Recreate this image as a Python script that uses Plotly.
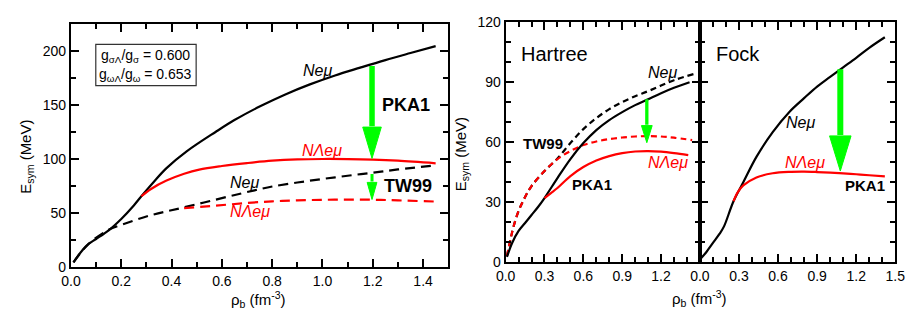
import plotly.graph_objects as go

W, H = 917, 320
FONT = "Liberation Sans, Arial, sans-serif"

# ---------------- data: left panel (PKA1 / TW99) ----------------
L_pka_n_x = [0.01, 0.04, 0.07, 0.10, 0.15, 0.20, 0.25, 0.28, 0.33, 0.38, 0.46, 0.575, 0.65, 0.75, 0.85, 0.95, 1.05, 1.15, 1.25, 1.35, 1.45]
L_pka_n_y = [4.4, 14.0, 21.4, 26.0, 34.0, 44.5, 57.0, 65.5, 79.0, 91.5, 107.0, 125.0, 136.0, 148.5, 159.5, 169.0, 177.3, 184.5, 191.5, 198.0, 204.4]
L_pka_l_x = [0.28, 0.32, 0.38, 0.45, 0.51, 0.60, 0.70, 0.80, 0.90, 1.00, 1.10, 1.20, 1.30, 1.45]
L_pka_l_y = [65.5, 72.5, 80.0, 86.3, 90.2, 93.5, 96.2, 98.4, 99.6, 100.0, 99.9, 99.4, 98.4, 96.0]
L_tw_n_x = [0.01, 0.07, 0.15, 0.20, 0.315, 0.445, 0.627, 0.73, 0.80, 0.90, 1.00, 1.10, 1.20, 1.30, 1.45]
L_tw_n_y = [4.4, 21.4, 34.5, 39.0, 47.8, 55.0, 65.3, 71.0, 74.5, 78.2, 81.5, 84.5, 87.3, 90.3, 94.0]
L_tw_l_x = [0.45, 0.575, 0.70, 0.80, 0.90, 1.00, 1.10, 1.20, 1.30, 1.45]
L_tw_l_y = [54.6, 56.8, 59.3, 60.8, 61.7, 62.2, 62.4, 62.3, 61.7, 60.6]

# ---------------- data: Hartree panel ----------------
H_pka_n_x = [0.01, 0.05, 0.10, 0.15, 0.20, 0.25, 0.30, 0.40, 0.50, 0.60, 0.70, 0.80, 0.90, 1.00, 1.10, 1.20, 1.30, 1.42]
H_pka_n_y = [2.5, 9.5, 15.5, 19.5, 23.5, 27.5, 32.0, 42.0, 51.5, 59.5, 66.0, 71.0, 75.0, 78.5, 81.5, 84.5, 87.2, 90.0]
H_pka_l_x = [0.30, 0.35, 0.40, 0.50, 0.60, 0.70, 0.80, 0.90, 1.00, 1.10, 1.20, 1.30, 1.41]
H_pka_l_y = [32.0, 34.5, 37.0, 43.0, 47.5, 50.8, 53.0, 54.5, 55.3, 55.5, 55.2, 54.5, 53.5]
H_tw_n_x = [0.01, 0.02, 0.04, 0.06, 0.10, 0.15, 0.20, 0.30, 0.40, 0.50, 0.60, 0.70, 0.80, 0.90, 1.00, 1.10, 1.20, 1.30, 1.45]
H_tw_n_y = [3.0, 6.0, 12.0, 17.5, 25.5, 32.5, 38.0, 45.5, 51.8, 59.5, 66.5, 72.0, 76.5, 80.0, 83.0, 85.5, 88.3, 91.0, 94.0]
H_tw_l_x = [0.01, 0.02, 0.04, 0.06, 0.10, 0.15, 0.20, 0.30, 0.40, 0.50, 0.60, 0.70, 0.80, 0.90, 1.00, 1.10, 1.20, 1.30, 1.44]
H_tw_l_y = [3.0, 6.0, 12.0, 17.5, 25.5, 32.5, 38.0, 45.5, 51.5, 55.5, 58.5, 60.3, 61.5, 62.3, 62.8, 63.0, 62.8, 62.2, 61.0]

# ---------------- data: Fock panel ----------------
F_pka_n_x = [0.01, 0.05, 0.10, 0.15, 0.185, 0.258, 0.333, 0.434, 0.559, 0.685, 0.80, 0.90, 1.00, 1.10, 1.20, 1.30, 1.42]
F_pka_n_y = [1.9, 5.0, 9.5, 14.0, 17.8, 30.4, 39.9, 52.6, 65.0, 75.0, 82.0, 87.8, 92.6, 97.4, 102.2, 107.2, 112.5]
F_pka_l_x = [0.258, 0.29, 0.333, 0.434, 0.559, 0.70, 0.80, 0.90, 1.00, 1.10, 1.20, 1.30, 1.42]
F_pka_l_y = [30.4, 34.8, 38.3, 42.3, 44.4, 45.1, 45.2, 45.0, 44.7, 44.3, 43.9, 43.4, 42.8]

# arrows: (x, y_from, y_to, shaft width px, head width px, head length px)
L_arrows = [(1.197, 186.0, 100.5, 5.5, 19, 33), (1.197, 86.0, 62.5, 3.0, 10, 18)]
H_arrows = [(1.09, 81.5, 59.7, 3.3, 11, 18)]
F_arrows = [(1.078, 96.5, 45.5, 6.0, 22, 37)]

# tick labels
L_xticks = [0.0, 0.2, 0.4, 0.6, 0.8, 1.0, 1.2, 1.4]
L_yticks = [0, 50, 100, 150, 200]
H_xticks = [0.0, 0.3, 0.6, 0.9, 1.2]
F_xticks = [0.0, 0.3, 0.6, 0.9, 1.2, 1.5]
R_yticks = [0, 30, 60, 90, 120]

# ---------------- layout geometry (pixels) ----------------
LX0, LX1, LY0, LY1 = 62.3, 448.0, 16.7, 272.7
HX0, HX1, RY0, RY1 = 506.7, 705.3, 15.0, 267.3
FX0, FX1 = 705.3, 905.0

def px(x):
    return x / W

def py(y):
    return 1 - y / H

BLACK, RED, GREEN = "#000000", "#ff0000", "#00ff00"

fig = go.Figure()

def line(x, y, color, dash, xa, ya):
    fig.add_trace(go.Scatter(x=x, y=y, mode="lines", xaxis=xa, yaxis=ya,
                             line=dict(color=color, width=2.2, dash=dash, shape="spline", smoothing=1.0),
                             hoverinfo="skip", showlegend=False))

line(L_tw_n_x, L_tw_n_y, BLACK, "10px,6px", "x", "y")
line(L_tw_l_x, L_tw_l_y, RED, "10px,6px", "x", "y")
line(L_pka_n_x, L_pka_n_y, BLACK, "solid", "x", "y")
line(L_pka_l_x, L_pka_l_y, RED, "solid", "x", "y")

line(H_tw_n_x, H_tw_n_y, BLACK, "6px,4px", "x2", "y2")
line(H_tw_l_x, H_tw_l_y, RED, "6px,4px", "x2", "y2")
line(H_pka_n_x, H_pka_n_y, BLACK, "solid", "x2", "y2")
line(H_pka_l_x, H_pka_l_y, RED, "solid", "x2", "y2")

line(F_pka_n_x, F_pka_n_y, BLACK, "solid", "x3", "y3")
line(F_pka_l_x, F_pka_l_y, RED, "solid", "x3", "y3")

shapes = []

def add_arrows(arrows, xr, yr, x0p, x1p, y0p, y1p, xrange_, yrange_):
    ux = (xrange_[1] - xrange_[0]) / (x1p - x0p)
    uy = (yrange_[1] - yrange_[0]) / (y1p - y0p)
    for (x, ya, yb, sw, hw, hl) in arrows:
        ybase = yb + hl * uy
        shapes.append(dict(type="line", xref=xr, yref=yr, x0=x, x1=x, y0=ya, y1=ybase + 1 * uy,
                           line=dict(color=GREEN, width=sw), layer="above"))
        path = "M {:.4f},{:.4f} L {:.4f},{:.4f} L {:.4f},{:.4f} Z".format(
            x - hw / 2 * ux, ybase, x + hw / 2 * ux, ybase, x, yb)
        shapes.append(dict(type="path", xref=xr, yref=yr, path=path,
                           fillcolor=GREEN, line=dict(color=GREEN, width=1), layer="above"))

add_arrows(L_arrows, "x", "y", LX0, LX1, LY0, LY1, (0, 1.5), (0, 225))
add_arrows(H_arrows, "x2", "y2", HX0, HX1, RY0, RY1, (0, 1.5), (0, 120))
add_arrows(F_arrows, "x3", "y3", FX0, FX1, RY0, RY1, (0, 1.5), (0, 120))

# parameter box
shapes.append(dict(type="rect", xref="paper", yref="paper",
                   x0=px(87.7), x1=px(190.3), y0=py(81.7), y1=py(38.3),
                   line=dict(color="#333333", width=1.2), fillcolor="rgba(0,0,0,0)"))

ann = []

def text(x, y, s, xr, yr, size, color=BLACK, bold=False, italic=False, xanchor="center"):
    if bold:
        s = "<b>" + s + "</b>"
    if italic:
        s = "<i>" + s + "</i>"
    ann.append(dict(x=x, y=y, xref=xr, yref=yr, text=s, showarrow=False, xanchor=xanchor,
                    yanchor="middle", font=dict(family=FONT, size=size, color=color)))

def ptext(x, y, s, size, angle=0):
    ann.append(dict(x=px(x), y=py(y), xref="paper", yref="paper", showarrow=False,
                    xanchor="center", yanchor="middle", textangle=angle,
                    text=s, font=dict(family=FONT, size=size, color=BLACK)))

# left panel labels
text(0.98, 182, "Neμ", "x", "y", 16, italic=True)
text(1.0, 108, "NΛeμ", "x", "y", 16, RED, italic=True)
text(1.333, 150, "PKA1", "x", "y", 18, bold=True)
text(0.69, 78.5, "Neμ", "x", "y", 16, italic=True)
text(0.71, 51, "NΛeμ", "x", "y", 16, RED, italic=True)
text(1.34, 75, "TW99", "x", "y", 18, bold=True)

# Hartree labels
text(0.1, 104, "Hartree", "x2", "y2", 20, xanchor="left")
text(1.21, 95, "Neμ", "x2", "y2", 16, italic=True)
text(0.29, 59.5, "TW99", "x2", "y2", 15, bold=True)
text(1.25, 50, "NΛeμ", "x2", "y2", 16, RED, italic=True)
text(0.67, 39, "PKA1", "x2", "y2", 15, bold=True)

# Fock labels
text(0.105, 104, "Fock", "x3", "y3", 20, xanchor="left")
text(0.77, 70, "Neμ", "x3", "y3", 16, italic=True)
text(0.81, 50, "NΛeμ", "x3", "y3", 16, RED, italic=True)
text(1.27, 38.5, "PKA1", "x3", "y3", 15, bold=True)

# box texts
ptext(139, 50, "g<sub>σΛ</sub>/g<sub>σ</sub> = 0.600", 14)
ptext(139, 71, "g<sub>ωΛ</sub>/g<sub>ω</sub> = 0.653", 14)

# axis titles
ptext(254, 307, "ρ<sub>b</sub> (fm<sup>-3</sup>)", 15)
ptext(705, 306, "ρ<sub>b</sub> (fm<sup>-3</sup>)", 15)
ptext(16, 157, "E<sub>sym</sub> (MeV)", 15, -90)
ptext(461, 154, "E<sub>sym</sub> (MeV)", 15, -90)

tickfont = dict(family=FONT, size=14, color=BLACK)

def xaxis(domain, tickvals, minor_dtick, anchor, fmt):
    return dict(domain=domain, range=[0, 1.5], anchor=anchor, tickvals=tickvals,
                ticktext=[fmt.format(v) for v in tickvals],
                ticks="inside", ticklen=8, tickwidth=1.5, tickcolor=BLACK,
                minor=dict(dtick=minor_dtick, tick0=0, ticks="inside", ticklen=5, tickwidth=1.5, tickcolor=BLACK),
                showline=True, linewidth=2, linecolor=BLACK, mirror="ticks",
                showgrid=False, zeroline=False, tickfont=tickfont, fixedrange=True)

def yaxis(domain, rng, tickvals, minor_dtick, anchor, labels=True):
    return dict(domain=domain, range=rng, anchor=anchor, tickvals=tickvals,
                ticks="inside", ticklen=8, tickwidth=1.5, tickcolor=BLACK,
                minor=dict(dtick=minor_dtick, tick0=0, ticks="inside", ticklen=5, tickwidth=1.5, tickcolor=BLACK),
                showline=True, linewidth=2, linecolor=BLACK, mirror="ticks",
                showgrid=False, zeroline=False, tickfont=tickfont, fixedrange=True,
                showticklabels=labels)

fig.update_layout(
    width=W, height=H, margin=dict(l=0, r=0, t=0, b=0),
    paper_bgcolor="white", plot_bgcolor="white",
    xaxis=xaxis([px(LX0), px(LX1)], L_xticks, 0.1, "y", "{:.1f}"),
    yaxis=yaxis([py(LY1), py(LY0)], [0, 225], L_yticks, 25, "x"),
    xaxis2=xaxis([px(HX0), px(HX1)], H_xticks, 0.1, "y2", "{:.1f}"),
    yaxis2=yaxis([py(RY1), py(RY0)], [0, 120], R_yticks, 10, "x2"),
    xaxis3=xaxis([px(FX0), px(FX1)], F_xticks, 0.1, "y3", "{:.1f}"),
    yaxis3=yaxis([py(RY1), py(RY0)], [0, 120], R_yticks, 10, "x3", labels=False),
    shapes=shapes, annotations=ann, showlegend=False,
)

fig.write_html("out.html")
